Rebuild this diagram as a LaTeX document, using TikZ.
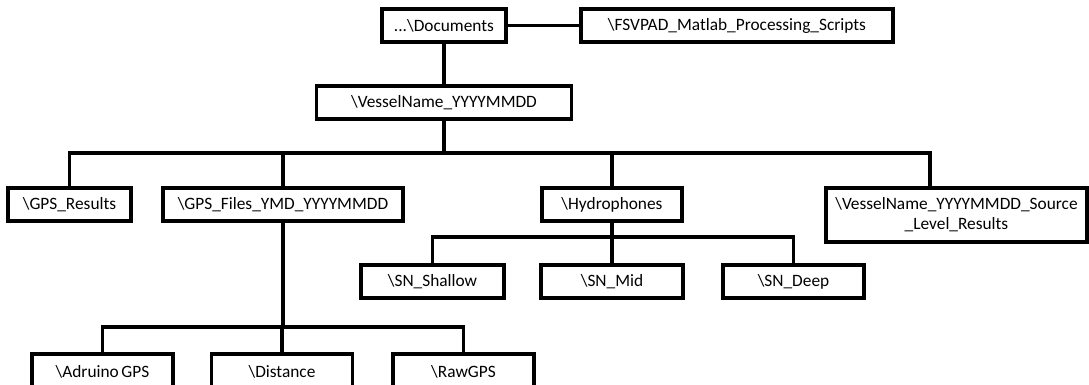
\documentclass[tikz,border=0pt]{standalone}
\usepackage{fontspec}
\setmainfont{Carlito}
\usepackage{tikz}
\usepackage{xcolor}

\tikzset{
  folder/.style={draw=black, line width=2.6pt, fill=white, inner sep=0pt,
    align=center, minimum height=33*0.75pt, font=\fontsize{13}{15}\selectfont},
  link/.style={line width=2.5pt}
}

\begin{document}
\begin{tikzpicture}[x=0.75pt, y=-0.75pt]
    \useasboundingbox (0,0) rectangle (1089,385);

    \node[folder, minimum width=124*0.75pt] (docs) at (444,25.5) {...\textbackslash Documents};
    \node[folder, minimum width=312*0.75pt] (scripts) at (737,25.5) {\textbackslash FSVPAD\_Matlab\_Processing\_Scripts};
    \node[folder, minimum width=255*0.75pt] (vessel) at (444,102.5) {\textbackslash VesselName\_YYYYMMDD};

    \node[folder, minimum width=123*0.75pt] (gpsres) at (69.5,204.5) {\textbackslash GPS\_Results};
    \node[folder, minimum width=240*0.75pt] (gpsfiles) at (283,204.5) {\textbackslash GPS\_Files\_YMD\_YYYYMMDD};
    \node[folder, minimum width=140*0.75pt] (hydro) at (612,204.5) {\textbackslash Hydrophones};
    \node[folder, minimum width=261*0.75pt, minimum height=54*0.75pt] (source) at (956.5,215)
        {\textbackslash VesselName\_YYYYMMDD\_Source\\\_Level\_Results};

    \node[folder, minimum width=143*0.75pt] (shallow) at (432.5,281.5) {\textbackslash SN\_Shallow};
    \node[folder, minimum width=142*0.75pt] (mid) at (612,281.5) {\textbackslash SN\_Mid};
    \node[folder, minimum width=141*0.75pt] (deep) at (793.5,281.5) {\textbackslash SN\_Deep};

    \node[folder, minimum width=141*0.75pt, minimum height=36*0.75pt] (adruino) at (102.5,372) {\textbackslash Adruino\hspace{0.15em}GPS};
    \node[folder, minimum width=141*0.75pt, minimum height=36*0.75pt] (distance) at (282,372) {\textbackslash Distance};
    \node[folder, minimum width=141*0.75pt, minimum height=36*0.75pt] (rawgps) at (463.5,372) {\textbackslash RawGPS};

    \coordinate (bus) at (444,153);
    \coordinate (srcin) at (930,188);
    \coordinate (hbus) at (612,237);
    \coordinate (gbus) at (283,327);

    \draw[link] (docs) -- (scripts);
    \draw[link] (docs.south) -- (docs.south |- vessel.north);
    \draw[link] (vessel.south) -- (bus) -| (gpsres.north);
    \draw[link] (bus) -| (gpsfiles.north);
    \draw[link] (bus) -| (hydro.north);
    \draw[link] (bus) -| (srcin);

    \draw[link] (hydro.south) -- (hbus) -| (shallow.north);
    \draw[link] (hbus) -- (mid.north);
    \draw[link] (hbus) -| (deep.north);

    \draw[link] (gpsfiles.south) -- (gbus) -| (adruino.north);
    \draw[link] (gbus) -- (gbus -| distance.north) -- (distance.north);
    \draw[link] (gbus) -| (rawgps.north);
\end{tikzpicture}
\end{document}
